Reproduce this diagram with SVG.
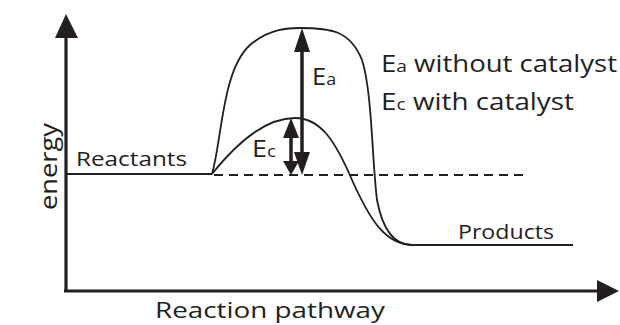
<svg xmlns="http://www.w3.org/2000/svg" width="620" height="325" viewBox="0 0 620 325">
<style>
.t{font-family:"Open Sans","Liberation Sans",sans-serif;fill:#231f20}
.c{fill:none;stroke:#231f20;stroke-width:1.8}
.ax{fill:none;stroke:#231f20;stroke-width:3.2}
.h{fill:#231f20}
</style>
<rect width="620" height="325" fill="#fff"/>
<g id="axes">
<path class="ax" d="M66,290 L66,36 M64,291 L600,291"/>
<path class="h" d="M66,14 L55,38 L78,38 Z"/>
<path class="h" d="M619,291 L597,280 L597,302 Z"/>
<text class="t" font-size="23" transform="translate(57,210) rotate(-90)" textLength="87" lengthAdjust="spacingAndGlyphs">energy</text>
<text class="t" font-size="22" x="155" y="318" textLength="230" lengthAdjust="spacingAndGlyphs">Reaction pathway</text>
</g>
<g id="connectors">
<path class="c" d="M66,174 L212,174"/>
<path class="c" stroke-dasharray="9,6" d="M214,175 L527,175"/>
<path class="c" d="M212,174 C222,140 222,70 250,45 C270,28 290,28 300,28 C330,28 350,30 362,60 C372,90 372,160 377,200 C383,232 395,245 412,245"/>
<path class="c" d="M212,174 C235,145 265,118 295,118 C320,118 335,140 352,180 C370,220 385,244 412,245"/>
<path class="c" d="M410,245 L573,245"/>
</g>
<g id="Ea">
<path fill="none" stroke="#231f20" stroke-width="3.5" d="M302,48 L302,156"/>
<path class="h" d="M302,28 L294,52 L310,52 Z"/>
<path class="h" d="M302,175 L294,152 L310,152 Z"/>
<text class="t" font-size="23" x="312" y="85" textLength="24" lengthAdjust="spacingAndGlyphs">E<tspan font-size="16">a</tspan></text>
</g>
<g id="Ec">
<path fill="none" stroke="#231f20" stroke-width="3.5" d="M291,134 L291,164"/>
<path class="h" d="M291,118 L283,138 L299,138 Z"/>
<path class="h" d="M291,175 L283,161 L299,161 Z"/>
<text class="t" font-size="23" x="252" y="157" textLength="24" lengthAdjust="spacingAndGlyphs">E<tspan font-size="16">c</tspan></text>
</g>
<g id="reactants"><text class="t" font-size="20" x="76" y="166" textLength="111" lengthAdjust="spacingAndGlyphs">Reactants</text></g>
<g id="products"><text class="t" font-size="20" x="458" y="239" textLength="96" lengthAdjust="spacingAndGlyphs">Products</text></g>
<g id="legend">
<text class="t" font-size="23" x="381" y="72" textLength="236" lengthAdjust="spacingAndGlyphs">E<tspan font-size="16">a</tspan> without catalyst</text>
<text class="t" font-size="23" x="381" y="110" textLength="193" lengthAdjust="spacingAndGlyphs">E<tspan font-size="16">c</tspan> with catalyst</text>
</g>
</svg>
